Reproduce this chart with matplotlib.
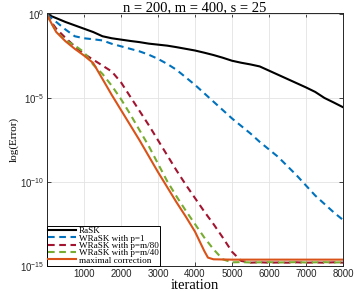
#!/usr/bin/env python3

import numpy as np
import matplotlib
matplotlib.use("Agg")
import matplotlib.pyplot as plt

plt.rcParams['font.family'] = ['Liberation Sans', 'DejaVu Sans']
plt.rcParams['mathtext.default'] = 'regular'

# iteration grids and log10(error)
it_rask = [0, 250, 500, 750, 1000, 1250, 1500, 1750, 2000, 2250, 2500, 2750, 3000,
           3250, 3500, 3750, 4000, 4250, 4500, 4750, 5000, 5250, 5500, 5750, 6000,
           6250, 6500, 6750, 7000, 7250, 7500, 7750, 8000]
log_rask = [0, -0.22, -0.45, -0.65, -0.85, -1.05, -1.3, -1.42, -1.5, -1.58, -1.65,
            -1.74, -1.8, -1.86, -1.95, -2.05, -2.15, -2.28, -2.42, -2.58, -2.76,
            -2.88, -2.98, -3.1, -3.35, -3.6, -3.85, -4.1, -4.35, -4.62, -4.98,
            -5.25, -5.53]

it_p1 = [0, 250, 500, 750, 1000, 1250, 1500, 1750, 2000, 2250, 2500, 2750, 3000,
         3250, 3500, 3750, 4000, 4250, 4500, 4750, 5000, 5250, 5500, 5750, 6000,
         6250, 6500, 6750, 7000, 7250, 7500, 7750, 8000]
log_p1 = [0, -0.45, -0.9, -1.3, -1.42, -1.48, -1.55, -1.75, -1.9, -2.05, -2.2,
          -2.4, -2.65, -2.95, -3.3, -3.75, -4.2, -4.7, -5.2, -5.7, -6.2, -6.65,
          -7.1, -7.6, -8.05, -8.5, -9.05, -9.6, -10.2, -10.8, -11.3, -11.8, -12.25]

it_dense = [0, 100, 250, 500, 750, 1000, 1250, 1500, 1750, 2000, 2250, 2500, 2750,
            3000, 3250, 3500, 3750, 4000, 4250, 4500, 4750, 5000, 5250, 5500, 5750,
            6000, 6250, 6500, 6750, 7000, 7250, 7500, 7750, 8000]
log_m80 = [0, -0.4, -0.85, -1.4, -1.9, -2.35, -2.7, -3.05, -3.4, -4.05, -4.9, -5.75,
           -6.6, -7.5, -8.4, -9.3, -10.15, -10.95, -11.75, -12.5, -13.3, -14.15,
           -14.7, -14.8, -14.78, -14.8, -14.79, -14.8, -14.78, -14.8, -14.79, -14.8,
           -14.78, -14.8]
log_m40 = [0, -0.45, -1.0, -1.55, -1.85, -2.25, -3.0, -3.55, -4.25, -5.05, -5.95,
           -6.9, -7.85, -8.9, -9.95, -10.85, -11.7, -12.5, -13.3, -14.0, -14.6,
           -14.78, -14.77, -14.79, -14.78, -14.77, -14.79, -14.78, -14.77, -14.79,
           -14.78, -14.77, -14.79, -14.78]

it_max = [0, 100, 250, 500, 750, 1000, 1250, 1500, 1750, 2000, 2250, 2500, 2750,
          3000, 3250, 3500, 3750, 4000, 4250, 4350, 4500, 5000, 6000, 7000, 8000]
log_max = [0, -0.45, -1.05, -1.6, -2.05, -2.45, -2.9, -3.85, -4.8, -5.7, -6.6, -7.5,
           -8.45, -9.4, -10.3, -11.2, -12.05, -12.95, -14.1, -14.5, -14.6, -14.62,
           -14.62, -14.62, -14.62]

labels = ['RaSK', 'WRaSK with p=1', 'WRaSK with p=m/80', 'WRaSK with p=m/40',
          'maximal correction']
x_ticks = [1000, 2000, 3000, 4000, 5000, 6000, 7000, 8000]
y_ticks = [1e-15, 1e-10, 1e-5, 1e0]

fig = plt.figure(figsize=(3.57, 2.91), dpi=100)
ax = fig.add_axes([0.1317, 0.0859, 0.829, 0.869])

dash = (3.2, 2.2)
ax.semilogy(it_rask, 10 ** np.array(log_rask), color='black', lw=1.5, label=labels[0])
ax.semilogy(it_p1, 10 ** np.array(log_p1), color='#0072BD', lw=1.5,
            linestyle=(0, dash), label=labels[1])
ax.semilogy(it_dense, 10 ** np.array(log_m80), color='#A2142F', lw=1.5,
            linestyle=(0, dash), label=labels[2])
ax.semilogy(it_dense, 10 ** np.array(log_m40), color='#77AC30', lw=1.5,
            linestyle=(0, dash), label=labels[3])
ax.semilogy(it_max, 10 ** np.array(log_max), color='#D95319', lw=1.5, label=labels[4])

ax.set_xlim(0, 8000)
ax.set_ylim(1e-15, 1.2)
ax.set_xticks(x_ticks)
ax.set_yticks(y_ticks)
ax.minorticks_off()
ax.tick_params(direction='in', top=True, right=True, labelsize=7, length=3,
               width=0.6, colors='#262626', pad=2)
ax.grid(True, color='#e3e3e3', lw=0.6)
ax.set_axisbelow(True)
for s in ax.spines.values():
    s.set_color('#262626')
    s.set_linewidth(0.7)

ax.set_title('n = 200, m = 400, s = 25', family='Liberation Serif', fontsize=10.5, pad=1.5)
ax.set_xlabel('iteration', family='Liberation Serif', fontsize=10.5, labelpad=0)
ax.set_ylabel('log(Error)', family='Liberation Serif', fontsize=8, labelpad=1)

leg = ax.legend(loc='lower left', borderaxespad=0, prop={'family': 'Liberation Serif', 'size': 6.6},
                handlelength=3.0, labelspacing=-0.12, borderpad=0.15, handletextpad=0.3,
                fancybox=False, edgecolor='black', framealpha=1)
leg.get_frame().set_linewidth(0.7)

fig.savefig('out.png', dpi=100, facecolor='white')
plt.close(fig)
